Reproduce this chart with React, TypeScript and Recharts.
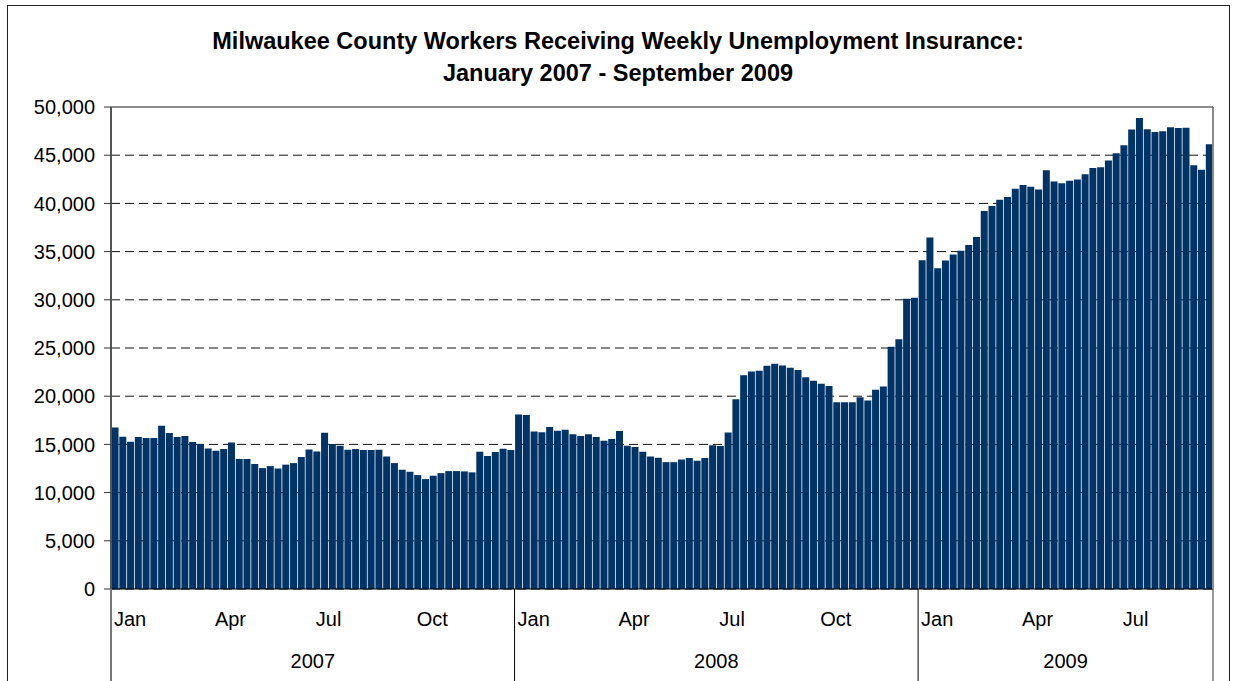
import React from 'react';
import { BarChart, Bar, XAxis, YAxis, CartesianGrid, ReferenceLine } from 'recharts';

// weekly counts
const years = ['2007', '2008', '2009'];
const monthLabels = ['Jan', 'Apr', 'Jul', 'Oct'];
const monthStartWeeks = [0, 13, 26, 39];
const yTicks = [0, 5000, 10000, 15000, 20000, 25000, 30000, 35000, 40000, 45000, 50000];

const claims2007 = [
  16760, 15800, 15280, 15760, 15660, 15660, 16940, 16180, 15760, 15870,
  15240, 15030, 14580, 14340, 14520, 15200, 13480, 13480, 12960, 12540,
  12750, 12500, 12900, 13060, 13690, 14480, 14270, 16200, 15030, 14860,
  14450, 14520, 14410, 14410, 14450, 13750, 13060, 12370, 12160, 11820,
  11400, 11750, 12020, 12230, 12230, 12200, 12100, 14240, 13790, 14200,
  14550, 14410,
];
const claims2008 = [
  18100, 18050, 16350, 16250, 16800, 16420, 16530, 16040, 15870, 16040,
  15760, 15380, 15550, 16390, 14860, 14720, 14240, 13750, 13610, 13160,
  13160, 13440, 13580, 13300, 13580, 14900, 14840, 16230, 19690, 22180,
  22560, 22630, 23150, 23360, 23180, 22940, 22730, 21970, 21590, 21280,
  21070, 19380, 19380, 19380, 19900, 19550, 20660, 21000, 25120, 25920,
  30100, 30200,
];
const claims2009 = [
  34100, 36450, 33280, 34070, 34690, 35100, 35690, 36520, 39200, 39720,
  40380, 40660, 41520, 41900, 41720, 41450, 43450, 42280, 42100, 42340,
  42480, 43030, 43660, 43760, 44450, 45200, 46030, 47660, 48860, 47690,
  47410, 47480, 47900, 47830, 47860, 43970, 43480, 46140,
];
const claimsByYear = [claims2007, claims2008, claims2009];

const data = years.flatMap((year, yi) =>
  claimsByYear[yi].map((claims, w) => ({
    week: `${year}-${w + 1}`,
    year,
    weekOfYear: w,
    weeksInYear: claimsByYear[yi].length,
    claims,
  }))
);

const FONT = '"Liberation Sans", Arial, Helvetica, sans-serif';

function WeekTick(props: any) {
  const { x, y, payload } = props;
  const idx = data.findIndex((d) => d.week === payload.value);
  const row = data[idx];
  if (!row) return null;
  const half = payload.offset ?? 0;
  const left = x - half;
  const right = x + half;
  const mi = monthStartWeeks.indexOf(row.weekOfYear);
  return (
    <g>
      {row.weekOfYear === 0 && (
        <line x1={left} x2={left} y1={y} y2={y + 100} stroke={idx === 0 ? '#777' : '#000'} strokeWidth={idx === 0 ? 2 : 1} />
      )}
      {idx === data.length - 1 && <line x1={right} x2={right} y1={y} y2={y + 100} stroke="#333" strokeWidth={1} />}
      {mi >= 0 && (
        <text x={left + 3} y={y + 37} textAnchor="start" fontSize={20} fontFamily={FONT} fill="#000">
          {monthLabels[mi]}
        </text>
      )}
      {row.weekOfYear === row.weeksInYear / 2 && (
        <text x={left} y={y + 79} textAnchor="middle" fontSize={20} fontFamily={FONT} fill="#000">
          {row.year}
        </text>
      )}
    </g>
  );
}

export default function App() {
  return (
    <div style={{ position: 'relative', width: 1233, height: 681, overflow: 'hidden', background: '#fff', fontFamily: FONT }}>
      <style>{'body{margin:0;}'}</style>
      <div
        style={{
          position: 'absolute',
          left: 7,
          top: 5,
          width: 1223,
          height: 720,
          border: '1px solid #222',
          boxSizing: 'border-box',
        }}
      />
      <div style={{ position: 'absolute', left: 0, top: 25, width: 1236, textAlign: 'center', fontSize: 23.5, fontWeight: 'bold', lineHeight: '32px' }}>
        <div>Milwaukee County Workers Receiving Weekly Unemployment Insurance:</div>
        <div>January 2007 - September 2009</div>
      </div>
      <div style={{ position: 'absolute', left: 0, top: 0 }}>
        <BarChart
          width={1233}
          height={681}
          data={data}
          margin={{ top: 107, right: 19, bottom: 0, left: 0 }}
          barCategoryGap={0.55}
        >
          <CartesianGrid vertical={false} stroke="#111" strokeDasharray="9 5" />
          <XAxis
            dataKey="week"
            interval={0}
            height={92}
            tickLine={false}
            tickSize={0}
            tickMargin={0}
            axisLine={{ stroke: '#000', strokeWidth: 1 }}
            tick={<WeekTick />}
          />
          <YAxis
            domain={[0, 50000]}
            ticks={yTicks}
            interval={0}
            width={111}
            tickSize={7}
            tickMargin={9}
            axisLine={{ stroke: '#555', strokeWidth: 2 }}
            tickLine={{ stroke: '#333' }}
            tick={{ fill: '#000', fontSize: 20, fontFamily: FONT }}
            tickFormatter={(v: number) => v.toLocaleString('en-US')}
          />
          <YAxis
            yAxisId="frame"
            orientation="right"
            width={1}
            domain={[0, 50000]}
            tick={false}
            tickLine={false}
            axisLine={{ stroke: '#8a8a8a', strokeWidth: 2 }}
          />
          <ReferenceLine y={50000} stroke="#8a8a8a" strokeWidth={2} />
          <Bar dataKey="claims" fill="#003366" isAnimationActive={false} />
        </BarChart>
      </div>
    </div>
  );
}
